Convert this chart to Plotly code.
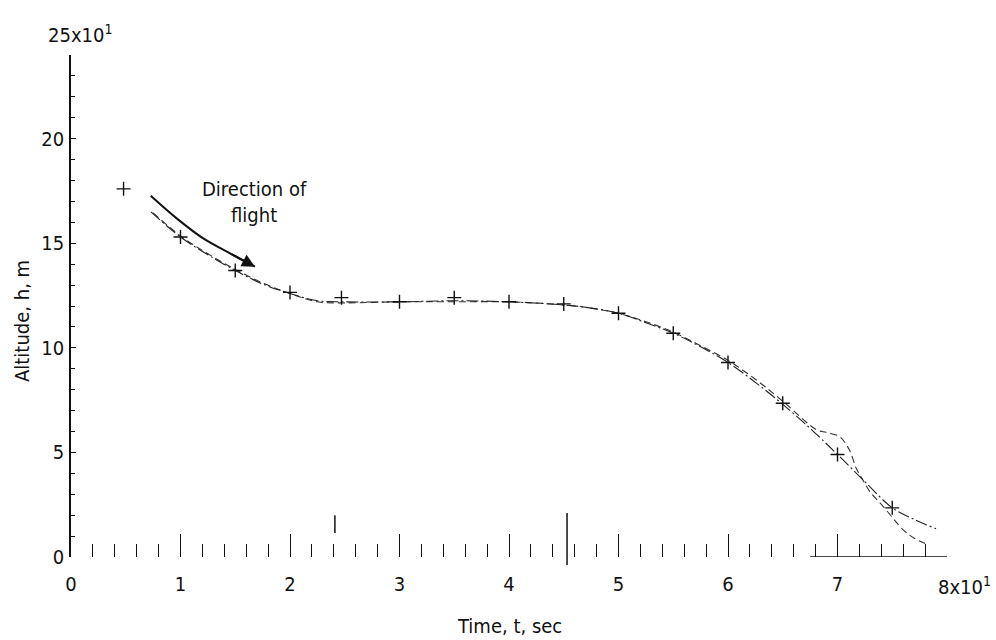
import plotly.graph_objects as go

# Time in units of 10 s, altitude in units of 10 m
t_a = [0.73, 1.0, 1.25, 1.5, 1.75, 2.0, 2.25, 2.5, 3.0, 3.5, 4.0, 4.5, 4.75, 5.0,
       5.25, 5.5, 5.75, 6.0, 6.25, 6.5, 6.75, 7.0, 7.25, 7.5, 7.7, 7.9]
h_a = [16.5, 15.3, 14.45, 13.7, 13.05, 12.6, 12.25, 12.2, 12.2, 12.25, 12.2, 12.05, 11.9, 11.65,
       11.2, 10.7, 10.05, 9.3, 8.35, 7.3, 6.15, 4.9, 3.6, 2.35, 1.8, 1.35]

t_b = [0.75, 1.0, 1.25, 1.5, 1.75, 2.0, 2.25, 2.5, 3.0, 3.5, 4.0, 4.5, 4.75, 5.0,
       5.25, 5.5, 5.75, 6.0, 6.25, 6.5, 6.81, 6.9, 7.02, 7.11, 7.17, 7.23, 7.3, 7.42, 7.6, 7.7, 7.82]
h_b = [16.45, 15.35, 14.5, 13.75, 13.1, 12.6, 12.2, 12.15, 12.2, 12.2, 12.2, 12.05, 11.9, 11.65,
       11.25, 10.75, 10.1, 9.4, 8.5, 7.45, 6.08, 5.95, 5.75, 5.1, 4.25, 3.7, 3.1, 2.4, 1.3, 0.9, 0.6]

t_pts = [0.48, 1.0, 1.5, 2.0, 2.47, 3.0, 3.5, 4.0, 4.5, 5.0, 5.5, 6.0, 6.5, 7.0, 7.5]
h_pts = [17.6, 15.3, 13.7, 12.65, 12.4, 12.2, 12.4, 12.2, 12.1, 11.65, 10.7, 9.3, 7.35, 4.9, 2.35]

# Timing trace along the time axis
baseline_t = [6.75, 8.0]
baseline_h = [0.0, 0.0]
event_t = [2.41, 4.53]
event_lo = [1.15, -0.38]
event_hi = [2.0, 2.1]

# Flight-direction arrow path
arrow_t = [0.728, 0.965, 1.208, 1.452, 1.68]
arrow_h = [17.27, 16.19, 15.23, 14.52, 13.88]

x_ticks = [0, 1, 2, 3, 4, 5, 6, 7, 8]
x_labels = ["0", "1", "2", "3", "4", "5", "6", "7", ""]
y_ticks = [0, 5, 10, 15, 20]
y_labels = ["0", "5", "10", "15", "20"]

Y_TOP = 24.0
FONT = "Liberation Sans Narrow, DejaVu Sans Condensed, Arial Narrow, sans-serif"
FS = 20
INK = "#111111"

fig = go.Figure()

fig.add_trace(go.Scatter(
    x=t_b, y=h_b, mode="lines", line=dict(color="#333333", width=1.1, dash="7px,4px"),
    line_shape="spline", hoverinfo="skip", showlegend=False))
fig.add_trace(go.Scatter(
    x=t_a, y=h_a, mode="lines", line=dict(color="#222222", width=1.1, dash="12px,3px,2px,3px"),
    line_shape="spline", hoverinfo="skip", showlegend=False))
fig.add_trace(go.Scatter(
    x=t_pts, y=h_pts, mode="markers",
    marker=dict(symbol="cross-thin-open", size=10, color=INK, line=dict(color=INK, width=1.4)),
    showlegend=False))

fig.add_trace(go.Scatter(
    x=baseline_t, y=baseline_h, mode="lines", line=dict(color=INK, width=1.5),
    cliponaxis=False, showlegend=False, hoverinfo="skip"))

fig.add_trace(go.Scatter(
    x=arrow_t, y=arrow_h, mode="lines", line=dict(color=INK, width=2),
    line_shape="spline", showlegend=False, hoverinfo="skip"))

fig.add_annotation(
    x=arrow_t[-1], y=arrow_h[-1], ax=arrow_t[-2], ay=arrow_h[-2],
    xref="x", yref="y", axref="x", ayref="y", text="",
    showarrow=True, arrowhead=2, arrowsize=1.3, arrowwidth=2, arrowcolor=INK)

# Event marks on the timing trace
for et, lo, hi in zip(event_t, event_lo, event_hi):
    fig.add_shape(type="line", xref="x", yref="paper",
                  x0=et, x1=et, y0=lo / Y_TOP, y1=hi / Y_TOP,
                  line=dict(color=INK, width=1.5))

fig.add_annotation(
    x=1.68, y=16.95, xref="x", yref="y", text="Direction of<br>flight",
    showarrow=False, align="center", font=dict(family=FONT, size=FS, color=INK))

fig.add_annotation(
    x=0, y=25 / Y_TOP, xref="x", yref="paper", text="25x10<sup>1</sup>", xanchor="left",
    xshift=-25, yanchor="middle", showarrow=False,
    font=dict(family=FONT, size=FS, color=INK))
fig.add_annotation(
    x=8, y=0, xref="x", yref="paper", text="8x10<sup>1</sup>", xanchor="left", xshift=-11,
    yanchor="top", yshift=-14, showarrow=False, font=dict(family=FONT, size=FS, color=INK))

fig.add_annotation(
    x=-0.056, y=0.47, xref="paper", yref="paper", text="Altitude, h, m", textangle=-90,
    xanchor="center", yanchor="middle",
    showarrow=False, font=dict(family=FONT, size=FS, color=INK))
fig.add_annotation(
    x=0.5, y=0, xref="paper", yref="paper", yanchor="top", yshift=-55, text="Time, t, sec",
    showarrow=False, font=dict(family=FONT, size=FS, color=INK))

fig.update_xaxes(
    range=[0, 8], showline=False, showgrid=False, zeroline=False,
    tickmode="array", tickvals=x_ticks, ticktext=x_labels,
    ticks="inside", ticklen=23, tickwidth=1.3, tickcolor=INK,
    minor=dict(ticks="inside", ticklen=13, tickwidth=1.2, tickcolor=INK, dtick=0.2, showgrid=False),
    ticklabelstandoff=13,
    tickfont=dict(family=FONT, size=FS, color=INK))
fig.update_yaxes(
    range=[0, Y_TOP], showline=True, linecolor=INK, linewidth=1.5,
    showgrid=False, zeroline=False,
    tickmode="array", tickvals=y_ticks, ticktext=y_labels,
    ticks="inside", ticklen=5, tickwidth=1.2, tickcolor=INK,
    minor=dict(ticks="inside", ticklen=4, tickwidth=1, tickcolor=INK, dtick=1, showgrid=False),
    ticklabelstandoff=1,
    tickfont=dict(family=FONT, size=FS, color=INK))

fig.update_layout(
    width=996, height=640,
    margin=dict(l=71, r=49, t=55, b=83),
    paper_bgcolor="white", plot_bgcolor="white",
    showlegend=False)

fig.write_html("out.html")
